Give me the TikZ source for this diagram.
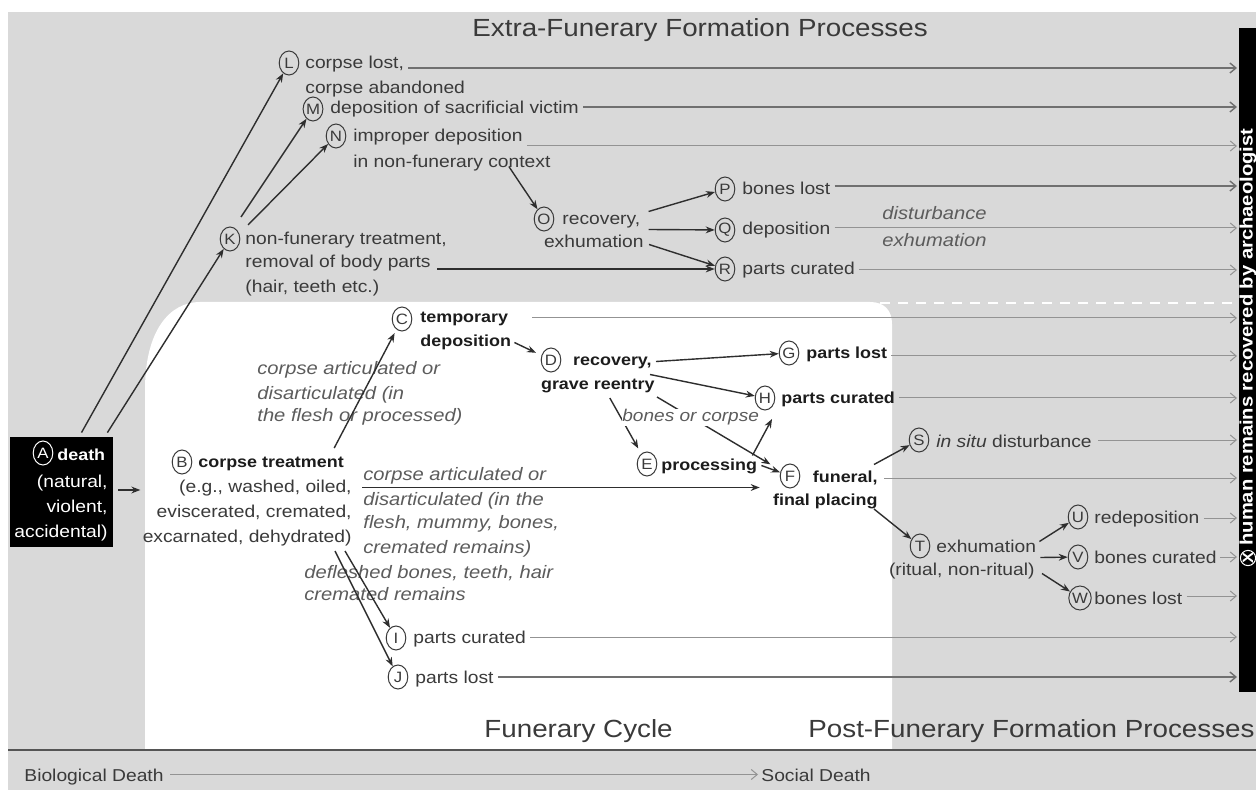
\documentclass[tikz,border=0pt]{standalone}
\usepackage{fontspec}
\setmainfont{Liberation Sans}[FakeStretch=1.12]
\usetikzlibrary{arrows.meta,shapes.geometric,calc}
\definecolor{bggray}{HTML}{D9D9D9}
\definecolor{txtc}{HTML}{3A3A3A}
\definecolor{boldc}{HTML}{1C1C1C}
\definecolor{itc}{HTML}{5C5C5C}
\definecolor{conc}{HTML}{2E2E2E}
\definecolor{leadc}{HTML}{939393}
\definecolor{leaddk}{HTML}{707070}
\definecolor{rulec}{HTML}{555555}
\newcommand\mybody{\fontsize{8.6}{10}\selectfont}
\newcommand\mybold{\fontsize{8}{10}\selectfont\bfseries}
\newcommand\myital{\fontsize{9}{10}\selectfont\itshape}
\newcommand\mysmit{\fontsize{8.5}{10}\selectfont\itshape}
\newcommand\mytitle{\fontsize{12.4}{14}\selectfont}
\newcommand\mylet{\fontsize{7.5}{8}\selectfont}
\newcommand\mybar{\fontsize{9}{10}\selectfont\bfseries}
\begin{document}
\begin{tikzpicture}[x=0.5pt,y=-0.5pt,
  tx/.style={anchor=base west, inner sep=0pt, font=\mybody, text=txtc, text height=6.3pt, text depth=1.8pt},
  txb/.style={tx, font=\mybold, text=boldc},
  txi/.style={tx, font=\myital, text=itc},
  ttl/.style={anchor=base west, inner sep=0pt, font=\mytitle, text=txtc},
  letter/.style={ellipse, draw=txtc, line width=0.5pt, inner sep=0pt, minimum width=9.8pt, minimum height=12pt, font=\mylet, text=txtc},
  conn/.style={draw=conc, line width=0.7pt, -{Stealth[length=4.5pt,width=3.4pt]}},
  lead/.style={draw=leadc, line width=0.5pt, -{Straight Barb[length=3pt,width=5pt]}},
  leadk/.style={lead, draw=leaddk, line width=0.7pt}
]
\useasboundingbox (0,0) rectangle (1256,790);
% backgrounds
\fill[bggray] (8,12) rectangle (1256,790);
\fill[white] (145,750) -- (145,390) .. controls (145,330) and (170,302) .. (200,302) -- (870,302) .. controls (884,302) and (892,310) .. (892,324) -- (892,750) -- cycle;
\draw[white, line width=1.2pt, dash pattern=on 5pt off 4pt] (880,303) -- (1236,303);
\draw[rulec, line width=1.2pt] (8,750) -- (1256,750);
\fill[black] (1239,28) rectangle (1256,692);

% titles
\node[ttl] (tExtra) at (472,37) {Extra-Funerary Formation Processes};
\node[ttl] (tFun) at (484,737) {Funerary Cycle};
\node[ttl] (tPost) at (808,737) {Post-Funerary Formation Processes};
\node[tx] (bio) at (24,781) {Biological Death};
\node[tx] (soc) at (761,781) {Social Death};

% A
\node[fill=black, inner sep=0pt, minimum width=51.5pt, minimum height=55pt] (A) at (61.5,492) {};
\node[letter, draw=white, text=white] (cA) at (43,453) {A};
\node[txb, text=white] (tA1) at (57,460) {death};
\node[tx, anchor=base east, text=white] (tA2) at (108,487) {(natural,};
\node[tx, anchor=base east, text=white] (tA3) at (108,512) {violent,};
\node[tx, anchor=base east, text=white] (tA4) at (108,537) {accidental)};

% B
\node[letter] (cB) at (182,462) {B};
\node[txb] (tB1) at (198,467) {corpse treatment};
\node[tx, anchor=base east] (tB2) at (352,492) {(e.g., washed, oiled,};
\node[tx, anchor=base east] (tB3) at (352,517) {eviscerated, cremated,};
\node[tx, anchor=base east] (tB4) at (352,542) {excarnated, dehydrated)};

% C
\node[letter] (cC) at (402,319) {C};
\node[txb] (tC1) at (420,323) {temporary};
\node[txb] (tC2) at (420,347) {deposition};

% D
\node[letter] (cD) at (551,360) {D};
\node[txb, anchor=base east] (tD1) at (652,366) {recovery,};
\node[txb, anchor=base east] (tD2) at (655,390) {grave reentry};

% E
\node[letter] (cE) at (647,464) {E};
\node[txb] (tE) at (661,470) {processing};

% F
\node[letter] (cF) at (790,476) {F};
\node[txb, anchor=base east] (tF1) at (878,482) {funeral,};
\node[txb, anchor=base east] (tF2) at (878,505) {final placing};

% G H
\node[letter] (cG) at (789,353) {G};
\node[txb] (tG) at (806,359) {parts lost};
\node[letter] (cH) at (765,398) {H};
\node[txb] (tH) at (781,404) {parts curated};

% I J
\node[letter] (cI) at (396,638) {I};
\node[tx] (tI) at (413,643) {parts curated};
\node[letter] (cJ) at (398,677) {J};
\node[tx] (tJ) at (415,683) {parts lost};

% K
\node[letter] (cK) at (230,239) {K};
\node[tx] (tK1) at (245,245) {non-funerary treatment,};
\node[tx] (tK2) at (245,268) {removal of body parts};
\node[tx] (tK3) at (245,293) {(hair, teeth etc.)};

% L M N
\node[letter] (cL) at (289,63) {L};
\node[tx] (tL1) at (305,69) {corpse lost,};
\node[tx] (tL2) at (305,94) {corpse abandoned};
\node[letter] (cM) at (313,109) {M};
\node[tx] (tM) at (330,114) {deposition of sacrificial victim};
\node[letter] (cN) at (336,136) {N};
\node[tx] (tN1) at (353,142) {improper deposition};
\node[tx] (tN2) at (353,168) {in non-funerary context};

% O P Q R
\node[letter] (cO) at (544,219) {O};
\node[tx] (tO1) at (562,225) {recovery,};
\node[tx, anchor=base east] (tO2) at (644,248) {exhumation};
\node[letter] (cP) at (725,189) {P};
\node[tx] (tP) at (742,195) {bones lost};
\node[letter] (cQ) at (725,230) {Q};
\node[tx] (tQ) at (742,235) {deposition};
\node[letter] (cR) at (725,269) {R};
\node[tx] (tR) at (742,275) {parts curated};
\node[txi] (dis1) at (882,220) {disturbance};
\node[txi] (dis2) at (882,247) {exhumation};

% S T U V W
\node[letter] (cS) at (919,440) {S};
\node[tx] (tS) at (936,447) {\textit{in situ} disturbance};
\node[letter] (cT) at (920,546) {T};
\node[tx] (tT1) at (936,552) {exhumation};
\node[tx, anchor=base east] (tT2) at (1035,575) {(ritual, non-ritual)};
\node[letter] (cU) at (1078,517) {U};
\node[tx] (tU) at (1094,523) {redeposition};
\node[letter] (cV) at (1078,557) {V};
\node[tx] (tV) at (1094,563) {bones curated};
\node[letter] (cW) at (1080,598) {W};
\node[tx] (tW) at (1094,604) {bones lost};

% italic labels
\node[txi] (lbc1) at (257,375) {corpse articulated or};
\node[txi] (lbc2) at (257,400) {disarticulated (in};
\node[txi] (lbc3) at (257,422) {the flesh or processed)};
\node[txi] (lbf1) at (363,480) {corpse articulated or};
\node[txi] (lbf2) at (363,505) {disarticulated (in the};
\node[txi] (lbf3) at (363,528) {flesh, mummy, bones,};
\node[txi] (lbf4) at (363,553) {cremated remains)};
\node[txi] (lbj1) at (304,578) {defleshed bones, teeth, hair};
\node[txi] (lbj2) at (304,600) {cremated remains};

% bar
\node[circle, draw=white, line width=0.5pt, text=white, inner sep=0pt, minimum size=7.6pt, rotate=90, font=\mylet\bfseries] (cX) at (1248,558) {X};
\node[anchor=west, rotate=90, inner sep=0pt, font=\mybar, text=white] (tX) at (1248,546) {human remains recovered by archaeologist};

% end coordinates at the bar
\coordinate (eL) at (1237,68);
\coordinate (eM) at (1237,107);
\coordinate (eN) at (1237,146);
\coordinate (eP) at (1237,186);
\coordinate (eQ) at (1237,228);
\coordinate (eR) at (1237,270);
\coordinate (eC) at (1237,318);
\coordinate (eG) at (1237,356);
\coordinate (eH) at (1237,398);
\coordinate (eS) at (1237,440);
\coordinate (eF) at (1237,478);
\coordinate (eU) at (1237,518);
\coordinate (eV) at (1237,557);
\coordinate (eW) at (1237,596);
\coordinate (eI) at (1237,637);
\coordinate (eJ) at (1237,677);

% leads
\draw[leadk] ($(tL1.east |- eL)+(4,0)$) -- (eL);
\draw[leadk] ($(tM.east |- eM)+(4,0)$) -- (eM);
\draw[lead] ($(tN1.east |- eN)+(4,0)$) -- (eN);
\draw[leadk] ($(tP.east |- eP)+(4,0)$) -- (eP);
\draw[lead] ($(tQ.east |- eQ)+(4,0)$) -- (eQ);
\draw[lead] ($(tR.east |- eR)+(4,0)$) -- (eR);
\draw[lead] ($(tC1.east |- eC)+(24,0)$) -- (eC);
\draw[lead] ($(tG.east |- eG)+(4,0)$) -- (eG);
\draw[lead] ($(tH.east |- eH)+(4,0)$) -- (eH);
\draw[lead] ($(tS.east |- eS)+(6,0)$) -- (eS);
\draw[lead] ($(tF1.east |- eF)+(6,0)$) -- (eF);
\draw[lead] ($(tU.east |- eU)+(4,0)$) -- (eU);
\draw[lead] ($(tV.east |- eV)+(3,0)$) -- (eV);
\draw[lead] ($(tW.east |- eW)+(4,0)$) -- (eW);
\draw[lead] ($(tI.east |- eI)+(4,0)$) -- (eI);
\draw[leadk] ($(tJ.east |- eJ)+(4,0)$) -- (eJ);
\draw[lead] ($(bio.east)+(6,-2)$) -- ($(soc.west)+(-3,-2)$);

% connectors
\draw[conn] ($(A.north)+(20,-4)$) -- (cL);
\draw[conn] ($(A.north east)+(-6,-4)$) -- (cK);
\draw[conn] ($(A.east)+(5,-2)$) -- ($(tB4.west |- A.east)+(-2,-2)$);
\draw[conn] ($(cK.center)+(11,-22)$) -- (cM);
\draw[conn] ($(cK.center)+(18,-14)$) -- (cN);
\draw[conn] ($(tK2.east |- cR.center)+(6,0)$) -- (cR);
\draw[conn] ($(tN2.east)+(-42,3)$) -- (cO);
\draw[conn] ($(tO1.east)+(8,-9)$) -- (cP);
\draw[conn] ($(tO1.east)+(8,9)$) -- (cQ);
\draw[conn] ($(tO2.east)+(5,1)$) -- (cR);
\draw[conn, shorten >=3pt] ($(tC2.east)+(3,0)$) -- (cD);
\draw[conn] ($(tD1.east)+(4,0)$) -- (cG);
\draw[conn] ($(tD1.east)+(-2,13)$) -- (cH);
\draw[conn, shorten >=3pt] ($(tD2.south)+(12,4)$) -- (cE);
\draw[conn, shorten >=6pt] ($(tD2.south east)+(2,3)$) -- (cF);
\node[tx, font=\mysmit, text=itc, fill=white] (lde) at (622,422) {bones or corpse};
\draw[conn] ($(tE.east)+(-5,-10)$) -- ($(cH.center)+(7,21)$);
\draw[conn] ($(tE.east)+(4,0)$) -- (cF);
\draw[conn] ($(tB2.east)+(10,0)$) -- ($(cF.west |- tB2.east)+(-20,0)$);
\draw[conn, shorten >=2pt] ($(tB1.north east)+(-10,-6)$) -- (cC);
\draw[conn] ($(tB4.south east)+(-7,5)$) -- (cI);
\draw[conn] ($(tB4.south east)+(-17,5)$) -- (cJ);
\draw[conn] ($(tF1.east)+(-4,-13)$) -- (cS);
\draw[conn] ($(tF2.south east)+(-4,0)$) -- (cT);
\draw[conn] ($(tT1.east)+(3,-6)$) -- (cU);
\draw[conn] ($(tT1.east)+(4,10)$) -- (cV);
\draw[conn] ($(tT2.east)+(7,3)$) -- (cW);
\end{tikzpicture}
\end{document}
